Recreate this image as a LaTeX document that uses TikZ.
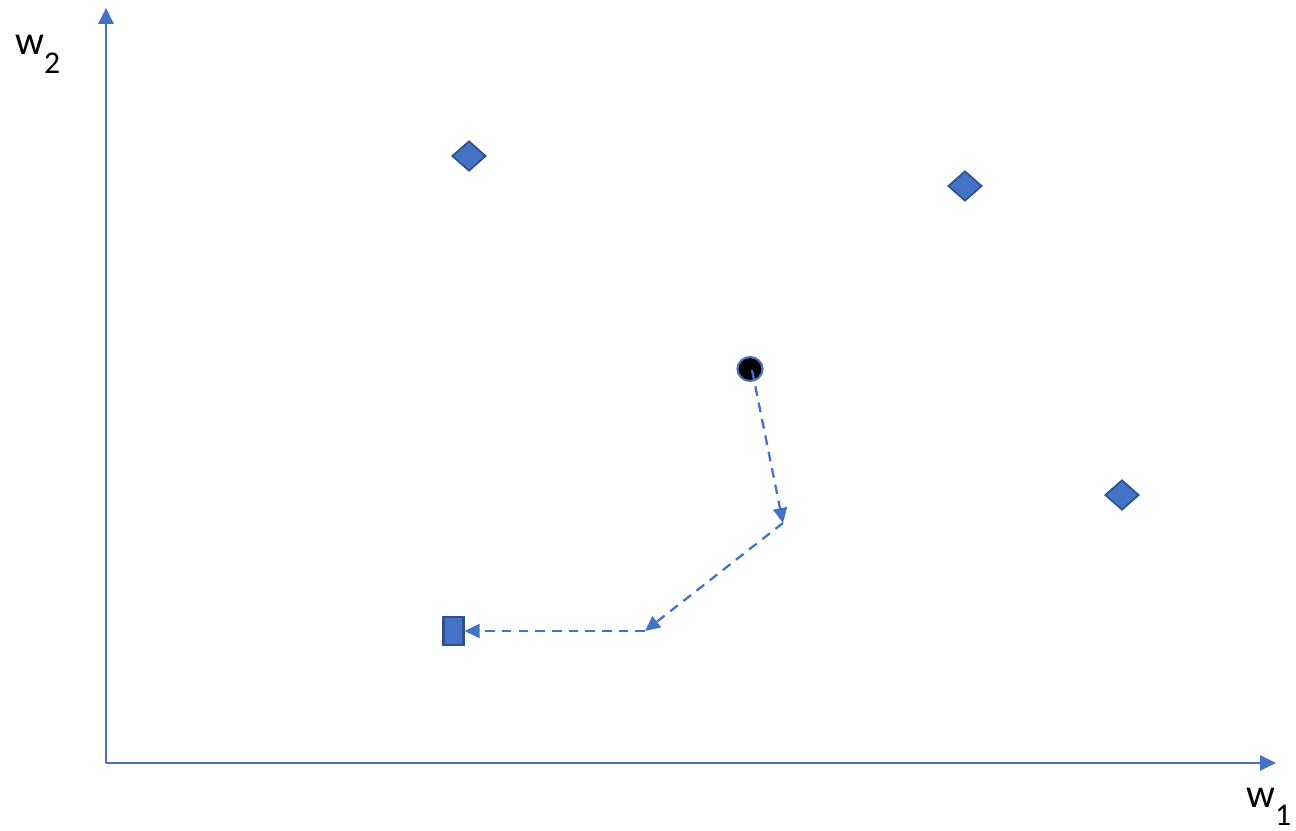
\documentclass[tikz,border=0pt]{standalone}
\usepackage{fontspec}
\setsansfont{Carlito}
\usepackage{tikz}
\usetikzlibrary{positioning,arrows.meta,calc,shapes.geometric}

\definecolor{ppblue}{HTML}{4472C4}
\definecolor{ppedge}{HTML}{2F528F}

\tikzset{
  axis/.style={ppblue, line width=1.7pt, -{Triangle[length=0.32cm,width=0.3cm]}},
  move/.style={ppblue, line width=1.3pt, dash pattern=on 5.5pt off 4pt, -{Triangle[length=0.3cm,width=0.28cm]}},
  sample/.style={diamond, aspect=1.15, minimum width=0.68cm, minimum height=0.6cm, inner sep=0pt, fill=ppblue, draw=ppedge, line width=1pt},
  start/.style={ellipse, minimum width=0.5cm, minimum height=0.48cm, inner sep=0pt, fill=black, draw=ppblue, line width=1.2pt},
  goal/.style={rectangle, minimum width=0.4cm, minimum height=0.56cm, inner sep=0pt, fill=ppblue, draw=ppedge, line width=1.2pt},
  lbl/.style={font=\sffamily\fontsize{23}{23}\selectfont, inner sep=0pt, anchor=base west}
}
\newcommand{\lowsub}[1]{\raisebox{-10.5pt}{\fontsize{18}{18}\selectfont #1}}

\begin{document}
\begin{tikzpicture}[x=0.02cm, y=-0.02cm]
  \useasboundingbox (0,0) rectangle (1296,831);
  % axes
  \coordinate (origin) at (106,763);
  \coordinate (ytip) at (106,8);
  \coordinate (xtip) at (1276,763);
  \draw[axis] (origin) -- (ytip);
  \draw[axis] (origin) -- (xtip);
  \node[lbl] (w2) at (15,55) {w\lowsub{2}};
  \node[lbl] (w1) at (1246,807) {w\lowsub{1}};
  % points
  \node[sample] (s1) at (469,156) {};
  \node[sample] (s2) at (965,186) {};
  \node[sample] (s3) at (1122,495) {};
  \node[goal] (box) at (453.5,631) {};
  \node[start] (dot) at (750,369) {};
  % path of the point
  \coordinate (k1) at (783,523);
  \coordinate (k2) at (645,631);
  \draw[move] ([shift={(2,1)}]dot.center) -- (k1);
  \draw[move] (k1) -- (k2);
  \draw[move] (k2) -- (box.east);
\end{tikzpicture}
\end{document}
